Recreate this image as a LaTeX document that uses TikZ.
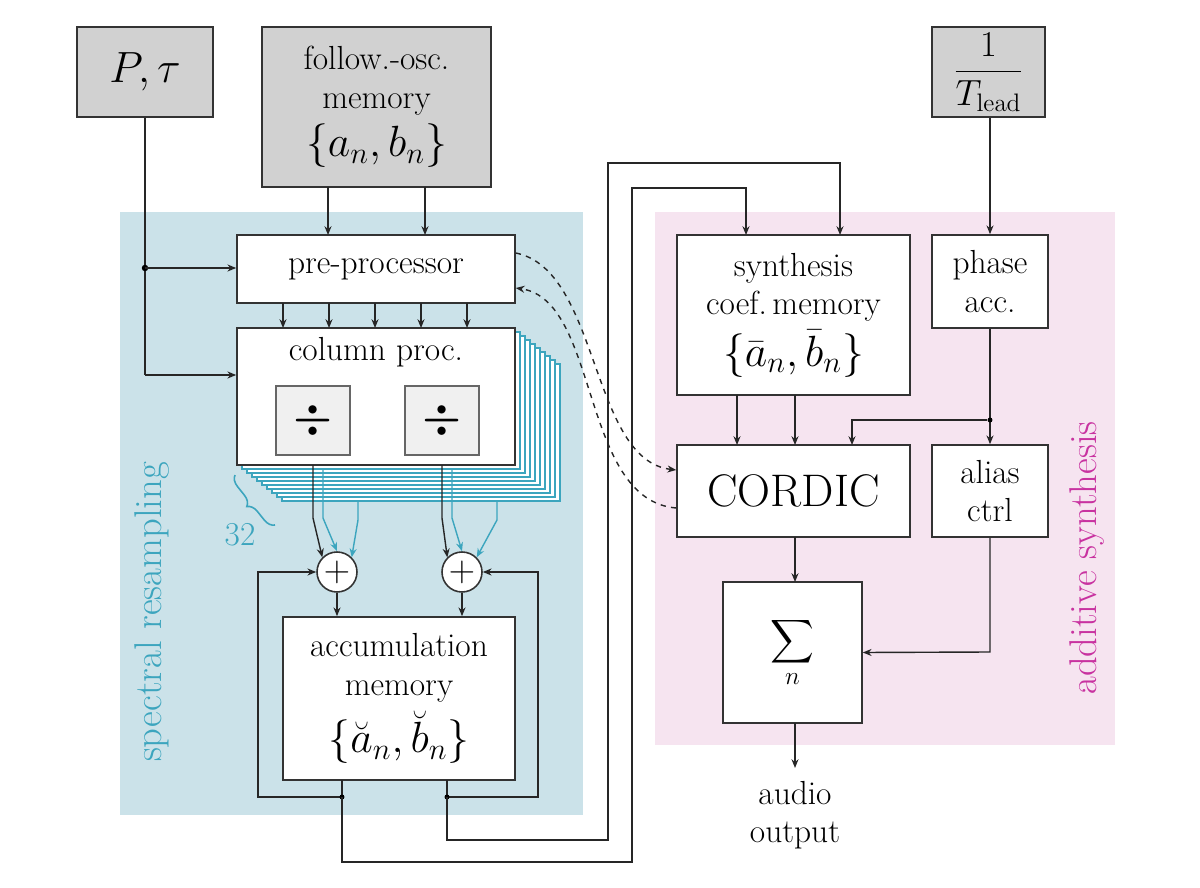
\documentclass[tikz,border=0pt]{standalone}
\usepackage{amsmath}
\usetikzlibrary{arrows.meta,decorations.pathreplacing}
\begin{document}
\begin{tikzpicture}[x=0.02cm,y=-0.02cm,
  >={Stealth[length=5pt,width=4pt]},
  box/.style={draw=black!80,line width=0.9pt,fill=white,inner sep=0pt,align=center,font=\fontsize{19}{22}\selectfont},
  gbox/.style={box,fill=black!18},
  dbox/.style={draw=black!60,line width=1.2pt,fill=black!6,inner sep=0pt},
  wire/.style={draw=black!85,line width=0.8pt},
  cwire/.style={draw=cyan!60!black!80,line width=0.8pt},
  dot/.style={circle,fill=black,inner sep=1.3pt}]
\definecolor{bgblue}{RGB}{203,226,233}
\definecolor{bgpink}{RGB}{246,228,240}
\definecolor{cyanl}{RGB}{60,165,190}
\definecolor{mag}{RGB}{200,50,160}
\useasboundingbox (0,0) rectangle (1200,888);
\fill[bgblue] (120,212) rectangle (583,815);
\fill[bgpink] (655,212) rectangle (1115,745);
\node[rotate=90,text=cyanl,font=\fontsize{22}{24}\selectfont] (lblA) at (152,612) {spectral resampling};
\node[rotate=90,text=mag,font=\fontsize{22}{24}\selectfont] (lblB) at (1087,558) {additive synthesis};
% top boxes
\node[gbox,minimum width=136*0.02cm,minimum height=90*0.02cm,font=\fontsize{30}{32}\selectfont] (pt) at (145,72) {$P,\tau$};
\node[gbox,minimum width=229*0.02cm,minimum height=160*0.02cm] (fo) at (376.5,107) {follow.-osc.\\memory\\[4pt]{\fontsize{25}{25}\selectfont$\{a_n,b_n\}$}};
\node[gbox,minimum width=113*0.02cm,minimum height=90*0.02cm,font=\fontsize{22}{24}\selectfont] (tl) at (988.5,72) {$\dfrac{1}{T_{\mathrm{lead}}}$};
% column proc stack
\foreach \i in {9,...,1}
  \draw[cyanl,fill=white,line width=0.7pt] (237+\i*5,328+\i*4) rectangle (515+\i*5,465+\i*4);
\node[box,minimum width=278*0.02cm,minimum height=68*0.02cm] (pp) at (376,269) {pre-processor};
\node[box,minimum width=278*0.02cm,minimum height=137*0.02cm] (cp) at (376,396.5) {};
\node[font=\fontsize{19}{21}\selectfont] (cpt) at (376,352) {column proc.};
\node[dbox,minimum width=74*0.02cm,minimum height=69*0.02cm,font=\fontsize{34}{36}\selectfont] (d1) at (313,420.5) {$\boldsymbol\div$};
\node[dbox,minimum width=74*0.02cm,minimum height=69*0.02cm,font=\fontsize{34}{36}\selectfont] (d2) at (442,420.5) {$\boldsymbol\div$};
\draw[cyanl,line width=0.9pt,decorate,decoration={brace,amplitude=6pt}] (275,525) -- (235,475);
\node[text=cyanl,font=\fontsize{19}{21}\selectfont] (n32) at (240,535) {32};
% plus
\node[circle,draw=black!80,fill=white,line width=0.9pt,minimum size=40*0.02cm,inner sep=0pt,font=\fontsize{22}{22}\selectfont] (p1) at (337,572) {$+$};
\node[circle,draw=black!80,fill=white,line width=0.9pt,minimum size=40*0.02cm,inner sep=0pt,font=\fontsize{22}{22}\selectfont] (p2) at (462,572) {$+$};
\node[box,minimum width=232*0.02cm,minimum height=163*0.02cm] (ac) at (399,698.5) {accumulation\\memory\\[4pt]{\fontsize{25}{25}\selectfont$\{\breve a_n,\breve b_n\}$}};
% right side
\node[box,minimum width=233*0.02cm,minimum height=160*0.02cm] (sy) at (793.5,315) {synthesis\\coef.\,memory\\[4pt]{\fontsize{25}{25}\selectfont$\{\bar a_n,\bar b_n\}$}};
\node[box,minimum width=116*0.02cm,minimum height=93*0.02cm] (ph) at (990,281.5) {phase\\acc.};
\node[box,minimum width=233*0.02cm,minimum height=92*0.02cm,font=\fontsize{26}{28}\selectfont] (co) at (793.5,491) {CORDIC};
\node[box,minimum width=116*0.02cm,minimum height=92*0.02cm] (al) at (990,491) {alias\\ctrl};
\node[box,minimum width=139*0.02cm,minimum height=141*0.02cm] (sg) at (792.5,652.5) {$\displaystyle\sum_n$};
\node[align=center,font=\fontsize{19}{22}\selectfont] (ao) at (795,815) {audio\\output};
% wires P,tau
\coordinate (b1) at (145,268);
\draw[wire] (pt.south) -- (145,375) coordinate (b2);
\node[dot] (db1) at (b1) {};
\draw[wire,->] (b1) -- (pp.west |- b1);
\draw[wire,->] (b2) -- (cp.west |- b2);
\foreach \x in {328,425} \draw[wire,->] (\x,187) -- (\x,235);
\foreach \x in {283,329,375,421,467} \draw[wire,->] (\x,303) -- (\x,328);
% divider outputs
\draw[wire,->] (313,465) -- (313,518) -- (p1.north west);
\draw[wire,->] (442,465) -- (442,518) -- (p2.north west);
\draw[cwire,->,cyanl] (323,470) -- (323,518) -- (p1.north);
\draw[cwire,->,cyanl] (358,500) -- (358,520) -- (p1.north east);
\draw[cwire,->,cyanl] (452,470) -- (452,518) -- (p2.north);
\draw[cwire,->,cyanl] (497,500) -- (497,520) -- (p2.north east);
% plus to acc
\draw[wire,->] (p1.south) -- (p1.south |- ac.north);
\draw[wire,->] (p2.south) -- (p2.south |- ac.north);
% feedback
\draw[wire,->] (342,780) -- (342,797) -- (258,797) -- (258,572) -- (p1.west);
\draw[wire,->] (447,780) -- (447,797) -- (538,797) -- (538,572) -- (p2.east);
\node[dot,inner sep=1pt] at (342,797) {};
\node[dot,inner sep=1pt] at (447,797) {};
% long routes
\draw[wire,->] (342,797) -- (342,862) -- (632,862) -- (632,188) -- (746,188) -- (746,235);
\draw[wire,->] (447,797) -- (447,840) -- (608,840) -- (608,163) -- (840,163) -- (840,235);
% dashed
\draw[wire,dashed,->] (pp.east |- 0,253) .. controls (600,270) and (590,460) .. (co.west |- 0,470);
\draw[wire,dashed,->] (co.west |- 0,508) .. controls (580,500) and (600,300) .. (pp.east |- 0,288);
% right wiring
\draw[wire,->] (tl.south -| ph.north) -- (ph.north);
\draw[wire,->] (ph.south) -- (al.north);
\node[dot,inner sep=1pt] (d3) at (990,420) {};
\draw[wire,->] (d3) -- (852,420) -- (852,445);
\draw[wire,->] (737,395) -- (737,445);
\draw[wire,->] (795,395) -- (795,445);
\draw[wire,->] (795,537) -- (795,582);
\draw[wire,->] (al.south) -- (990,652) -- (sg.east);
\draw[wire,->] (795,723) -- (795,768);
\end{tikzpicture}
\end{document}
